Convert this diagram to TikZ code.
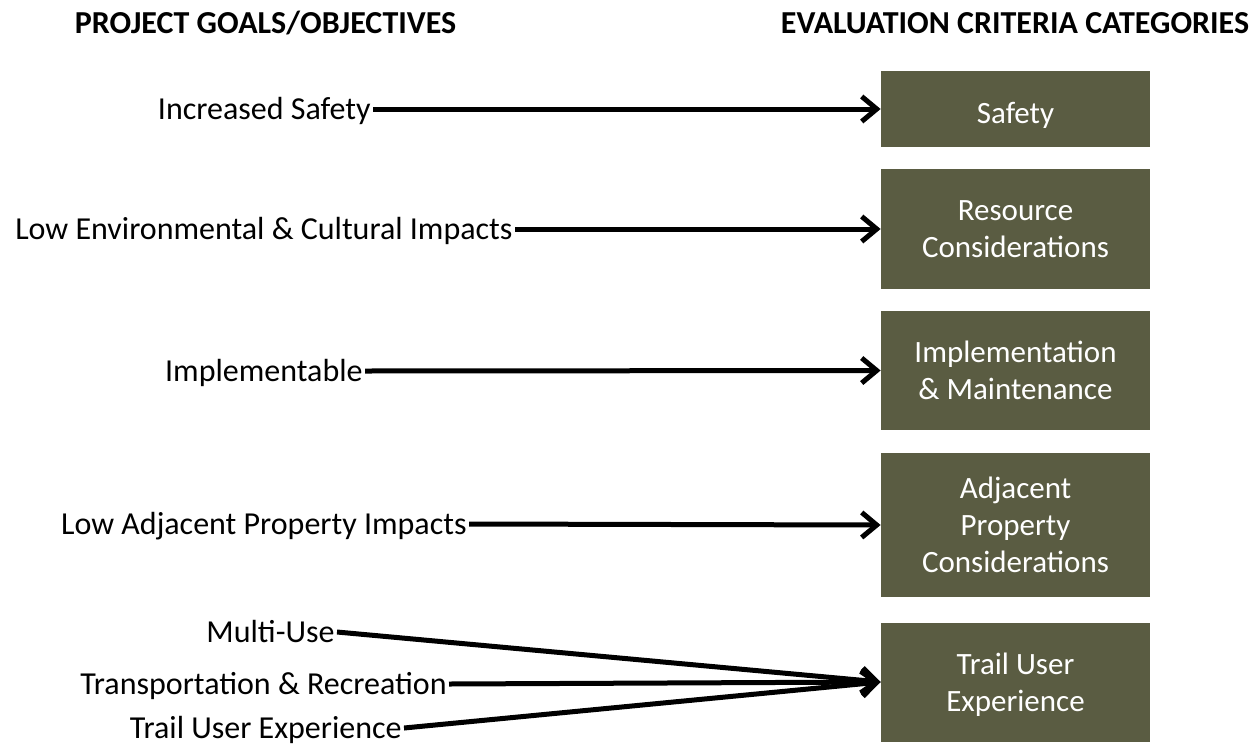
\documentclass[tikz,border=0pt]{standalone}
\usepackage{fontspec}
\setmainfont{Carlito}
\usepackage{xcolor}
\usepackage{tikz}
\usetikzlibrary{arrows.meta}
\usetikzlibrary{positioning}
\definecolor{olivebox}{RGB}{90,92,66}

\begin{document}
\begin{tikzpicture}[x=0.5pt, y=-0.5pt,
  heading/.style={inner sep=0pt, text height=10.3pt, text depth=0pt, font=\bfseries\fontsize{16}{19}\selectfont},
  goal/.style={anchor=east, inner xsep=1pt, inner ysep=0pt, text height=11pt, text depth=1pt, font=\fontsize{16}{19}\selectfont},
  category/.style={fill=olivebox, text=white, align=center, inner sep=0pt, minimum width=134.5pt, text depth=0pt,
    execute at begin node={\rule{0pt}{14pt}}, font=\fontsize{15.5}{18.5}\selectfont},
  link/.style={black, line width=2.5pt, -{Straight Barb[length=7.5pt, width=12.5pt, line join=miter]}}]
\useasboundingbox (0,0) rectangle (1251,744);

% column headings
\node[heading] (goalshead) at (265.5,23) {PROJECT GOALS/OBJECTIVES};
\node[heading] (catshead) at (1015,23) {EVALUATION CRITERIA CATEGORIES};

% evaluation criteria categories
\node[category, minimum height=38pt] (safety) at (1015.5,109) {Safety};
\node[category, minimum height=60pt] (resource) at (1015.5,229) {Resource\\Considerations};
\node[category, minimum height=59.5pt] (implement) at (1015.5,370.5) {Implementation\\\& Maintenance};
\node[category, minimum height=72pt] (adjacent) at (1015.5,525) {Adjacent\\Property\\Considerations};
\node[category, minimum height=59.5pt] (trail) at (1015.5,682) {Trail User\\Experience};

% project goals/objectives
\node[goal] (incsafety) at (373,109) {Increased Safety};
\node[goal] (lowenv) at (515,229) {Low Environmental \& Cultural Impacts};
\node[goal] (implementable) at (365,371) {Implementable};
\node[goal] (lowadj) at (469,524) {Low Adjacent Property Impacts};
\node[goal] (multiuse) at (337,632) {Multi-Use};
\node[goal] (transrec) at (449,684) {Transportation \& Recreation};
\node[goal] (trailuser) at (404,728) {Trail User Experience};

% connectors
\draw[link] (incsafety.east) -- (safety.west);
\draw[link] (lowenv.east) -- (resource.west);
\draw[link] (implementable.east) -- (implement.west);
\draw[link] (lowadj.east) -- (adjacent.west);
\draw[link] (multiuse.east) -- (trail.west);
\draw[link] (transrec.east) -- (trail.west);
\draw[link] (trailuser.east) -- (trail.west);
\end{tikzpicture}
\end{document}
